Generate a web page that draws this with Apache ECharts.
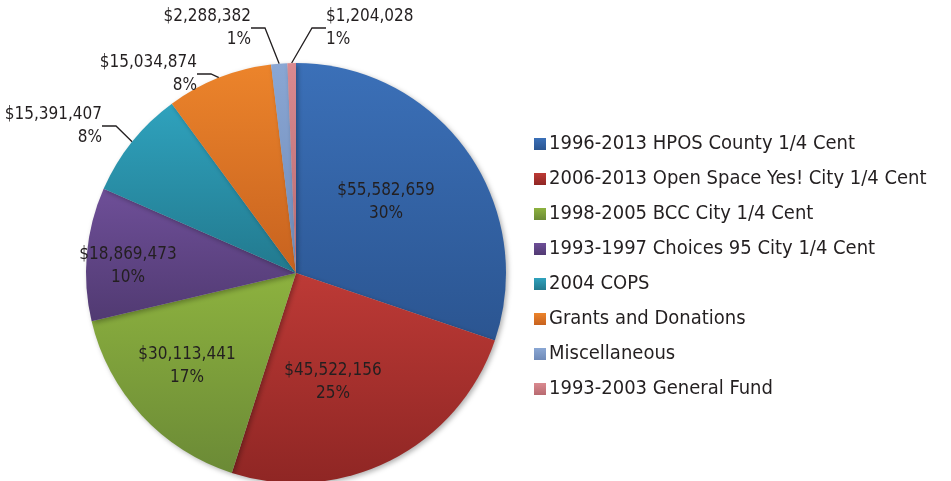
<!DOCTYPE html>
<html>
<head>
<meta charset="utf-8">
<script src="https://cdn.jsdelivr.net/npm/echarts@6/dist/echarts.min.js"></script>
<style>
  html, body { margin: 0; padding: 0; background: #fff; }
  #main { width: 951px; height: 481px; }
</style>
</head>
<body>
<div id="main"></div>
<script>
// data
const categories = [
  '1996-2013 HPOS County 1/4 Cent',
  '2006-2013 Open Space Yes! City 1/4 Cent',
  '1998-2005 BCC City 1/4 Cent',
  '1993-1997 Choices 95 City 1/4 Cent',
  '2004 COPS',
  'Grants and Donations',
  'Miscellaneous',
  '1993-2003 General Fund'
];
const amounts = [55582659, 45522156, 30113441, 18869473, 15391407, 15034874, 2288382, 1204028];
const percents = ['30%', '25%', '17%', '10%', '8%', '8%', '1%', '1%'];

const colorsTop = ['#3b70b8', '#bd3a36', '#8db23f', '#6e4f98', '#2fa2bd', '#ec842b', '#8aa7d4', '#da8a90'];
const colorsBottom = ['#2b5591', '#8f2624', '#6b8a36', '#513a72', '#22798e', '#c7621f', '#6f8ab8', '#b86a70'];

const font = "'Liberation Sans Narrow', 'DejaVu Sans Condensed', sans-serif";

const chart = echarts.init(document.getElementById('main'));

const outside = [false, false, false, false, true, true, true, true];

// where Excel put the data labels
const labelSpots = {
  0: { x: 386, y: 202, align: 'center' },
  1: { x: 333, y: 382, align: 'center' },
  2: { x: 187, y: 366, align: 'center' },
  3: { x: 128, y: 266, align: 'center' },
  4: { x: 102, y: 126, align: 'right' },
  5: { x: 197, y: 74, align: 'right' },
  6: { x: 251, y: 28, align: 'right' },
  7: { x: 326, y: 28, align: 'left' }
};

const data = categories.map((name, i) => ({
  name: name,
  value: amounts[i],
  itemStyle: {
    color: {
      type: 'linear', x: 0, y: 0, x2: 0, y2: 1,
      colorStops: [
        { offset: 0, color: colorsTop[i] },
        { offset: 1, color: colorsBottom[i] }
      ]
    }
  },
  label: outside[i] ? { position: 'outside' } : { position: 'inside' },
  labelLine: { show: outside[i] }
}));

chart.setOption({
  animation: false,
  legend: {
    orient: 'vertical',
    left: 529,
    top: 129,
    itemWidth: 12,
    itemHeight: 12,
    itemGap: 15,
    icon: 'rect',
    textStyle: { fontFamily: font, fontSize: 20, color: '#231f20', padding: [0, 0, 0, -2] },
    data: categories.map((c, i) => ({
      name: c,
      itemStyle: {
        color: {
          type: 'linear', x: 0, y: 0, x2: 0, y2: 1,
          colorStops: [
            { offset: 0, color: colorsTop[i] },
            { offset: 1, color: colorsBottom[i] }
          ]
        }
      }
    }))
  },
  series: [{
    type: 'pie',
    center: [296, 273],
    radius: 210,
    startAngle: 90,
    clockwise: true,
    avoidLabelOverlap: false,
    itemStyle: {
      borderWidth: 0,
      shadowBlur: 5,
      shadowOffsetX: 2,
      shadowOffsetY: 2,
      shadowColor: 'rgba(0,0,0,0.3)'
    },
    label: {
      fontFamily: font,
      fontSize: 17,
      lineHeight: 23,
      color: '#231f20',
      formatter: p => '$' + p.value.toLocaleString('en-US') + '\n' + percents[p.dataIndex]
    },
    labelLine: {
      length: 18,
      length2: 14,
      lineStyle: { color: '#231f20', width: 1.3 }
    },
    labelLayout: p => labelSpots[p.dataIndex] || {},
    data: data
  }]
});
</script>
</body>
</html>
